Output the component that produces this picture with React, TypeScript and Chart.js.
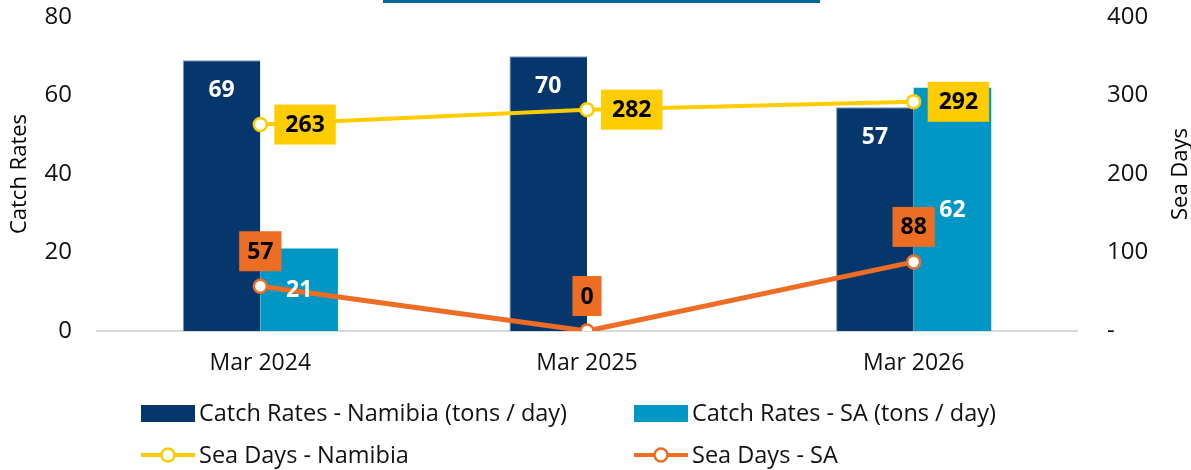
import React, { useEffect, useRef } from "react";
import { Chart, registerables } from "chart.js";

Chart.register(...registerables);

const categories = ["Mar 2024", "Mar 2025", "Mar 2026"];
const catchNamibia = [69, 70, 57];
const catchSA = [21, null, 62];
const seaDaysNamibia = [263, 282, 292];
const seaDaysSA = [57, 0, 88];

const seriesNames = [
  "Catch Rates - Namibia (tons / day)",
  "Catch Rates - SA (tons / day)",
  "Sea Days - Namibia",
  "Sea Days - SA",
];

const NAVY = "#05376C";
const SKY = "#0097C4";
const YELLOW = "#FFCC00";
const ORANGE = "#EE6D24";
const FONT = "'Open Sans', Lato, sans-serif";

// label offsets (px) from bar top for the SA catch labels
const saLabelOffsets = [42, 0, 123];

const labelPlugin = {
  id: "customLabels",
  afterDatasetsDraw(chart: any) {
    const ctx = chart.ctx;
    ctx.save();
    ctx.textAlign = "center";
    ctx.textBaseline = "middle";
    const m0 = chart.getDatasetMeta(0);
    ctx.font = `bold 23px ${FONT}`;
    ctx.fillStyle = "#ffffff";
    m0.data.forEach((el: any, i: number) => {
      const v = catchNamibia[i];
      if (v == null) return;
      ctx.fillText(String(v), el.x, el.y + 30);
    });
    const m1 = chart.getDatasetMeta(1);
    m1.data.forEach((el: any, i: number) => {
      const v = catchSA[i];
      if (v == null) return;
      ctx.fillText(String(v), el.x, el.y + saLabelOffsets[i]);
    });
    ctx.font = `bold 23px ${FONT}`;
    const m2 = chart.getDatasetMeta(2);
    m2.data.forEach((el: any, i: number) => {
      const t = String(seaDaysNamibia[i]);
      const w = ctx.measureText(t).width + 22;
      const h = 40;
      const x0 = el.x + 14;
      ctx.fillStyle = YELLOW;
      ctx.fillRect(x0, el.y - h / 2, w, h);
      ctx.fillStyle = "#000";
      ctx.fillText(t, x0 + w / 2, el.y + 1);
    });
    const m3 = chart.getDatasetMeta(3);
    m3.data.forEach((el: any, i: number) => {
      const t = String(seaDaysSA[i]);
      const w = ctx.measureText(t).width + 16;
      const h = 40;
      const cy = el.y - 35;
      ctx.fillStyle = ORANGE;
      ctx.fillRect(el.x - w / 2, cy - h / 2, w, h);
      ctx.fillStyle = "#000";
      ctx.fillText(t, el.x, cy + 1);
    });
    ctx.restore();
  },
  afterDraw(chart: any) {
    const ctx = chart.ctx;
    const area = chart.chartArea;
    ctx.save();
    ctx.fillStyle = "#000";
    ctx.font = `22px ${FONT}`;
    ctx.textAlign = "center";
    ctx.textBaseline = "middle";
    const midY = (area.top + area.bottom) / 2;
    ctx.save();
    ctx.translate(20, midY);
    ctx.rotate(-Math.PI / 2);
    ctx.fillText("Catch Rates", 0, 0);
    ctx.restore();
    ctx.save();
    ctx.translate(1181, midY);
    ctx.rotate(-Math.PI / 2);
    ctx.fillText("Sea Days", 0, 0);
    ctx.restore();

    const colX = [141, 634];
    const rowY = [413, 455];
    ctx.font = `23.5px ${FONT}`;
    ctx.textAlign = "left";
    chart.data.datasets.forEach((ds: any, i: number) => {
      const x = colX[i % 2];
      const y = rowY[Math.floor(i / 2)];
      if (ds.type === "bar") {
        ctx.fillStyle = ds.backgroundColor;
        ctx.fillRect(x, y - 8, 54, 17);
      } else {
        ctx.strokeStyle = ds.borderColor;
        ctx.lineWidth = 4;
        ctx.beginPath();
        ctx.moveTo(x, y);
        ctx.lineTo(x + 54, y);
        ctx.stroke();
        ctx.beginPath();
        ctx.arc(x + 27, y, 6.5, 0, Math.PI * 2);
        ctx.fillStyle = "#fff";
        ctx.fill();
        ctx.lineWidth = 2.5;
        ctx.stroke();
      }
      ctx.fillStyle = "#111";
      ctx.fillText(ds.label, x + 58, y + 1);
    });
    ctx.restore();
  },
};

export default function App() {
  const ref = useRef<HTMLCanvasElement>(null);
  useEffect(() => {
    if (!ref.current) return;
    const chart = new Chart(ref.current, {
      type: "bar",
      data: {
        labels: categories,
        datasets: [
          {
            type: "bar",
            label: seriesNames[0],
            data: catchNamibia,
            backgroundColor: NAVY,
            borderColor: "#7f9bb8",
            borderWidth: { top: 1, left: 1, right: 0, bottom: 0 },
            yAxisID: "y",
            order: 2,
            categoryPercentage: 0.475,
            barPercentage: 1,
          },
          {
            type: "bar",
            label: seriesNames[1],
            data: catchSA,
            backgroundColor: SKY,
            yAxisID: "y",
            order: 2,
            categoryPercentage: 0.475,
            barPercentage: 1,
          },
          {
            type: "line",
            label: seriesNames[2],
            data: seaDaysNamibia,
            borderColor: YELLOW,
            backgroundColor: "#fff",
            borderWidth: 4,
            pointRadius: 6.5,
            pointBorderWidth: 2.5,
            pointBackgroundColor: "#fff",
            pointBorderColor: YELLOW,
            yAxisID: "y1",
            order: 1,
          },
          {
            type: "line",
            label: seriesNames[3],
            data: seaDaysSA,
            borderColor: ORANGE,
            backgroundColor: "#fff",
            borderWidth: 5,
            pointRadius: 6.5,
            pointBorderWidth: 2.5,
            pointBackgroundColor: "#fff",
            pointBorderColor: ORANGE,
            yAxisID: "y1",
            order: 0,
          },
        ] as any,
      },
      plugins: [labelPlugin],
      options: {
        animation: false,
        responsive: false,
        maintainAspectRatio: false,
        layout: { padding: { top: 17, bottom: 89, left: 0, right: 0 } },
        plugins: {
          legend: { display: false },
          tooltip: { enabled: false },
          title: { display: false },
        },
        scales: {
          x: {
            grid: { display: false, drawTicks: false },
            border: { display: true, color: "#d9d9d9", width: 2 },
            ticks: {
              color: "#111",
              font: { family: FONT, size: 23 },
              padding: 19,
            },
            afterFit: (s: any) => {
              s.height = 50;
              s.paddingLeft = 0;
              s.paddingRight = 0;
            },
          },
          y: {
            position: "left",
            min: 0,
            max: 80,
            grid: { display: false, drawTicks: false },
            border: { display: false },
            ticks: {
              stepSize: 20,
              color: "#111",
              font: { family: FONT, size: 24 },
              padding: 25,
            },
            afterFit: (s: any) => {
              s.width = 97;
              s.paddingTop = 0;
              s.paddingBottom = 0;
            },
          },
          y1: {
            position: "right",
            min: 0,
            max: 400,
            grid: { display: false, drawTicks: false },
            border: { display: false },
            ticks: {
              stepSize: 100,
              color: "#111",
              font: { family: FONT, size: 24 },
              padding: 30,
              callback: (v: any) => (Number(v) === 0 ? "-" : String(v)),
            },
            afterFit: (s: any) => {
              s.width = 114;
              s.paddingTop = 0;
              s.paddingBottom = 0;
            },
          },
        },
      } as any,
    });
    return () => chart.destroy();
  }, []);
  return (
    <div style={{ position: "fixed", left: 0, top: 0, width: 1191, height: 470, background: "#fff" }}>
      <div style={{ position: "absolute", left: 383, top: 0, width: 437, height: 3, background: "#00679B" }} />
      <canvas ref={ref} width={1191} height={470} style={{ display: "block" }} />
    </div>
  );
}
